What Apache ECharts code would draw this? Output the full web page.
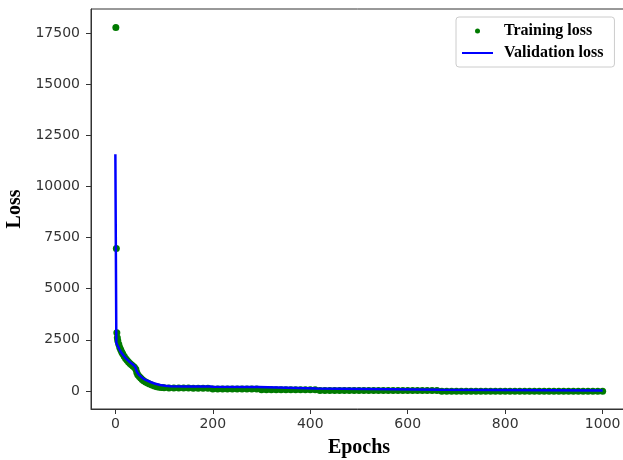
<!DOCTYPE html>
<html>
<head>
<meta charset="utf-8">
<title>Loss</title>
<script src="https://cdn.jsdelivr.net/npm/echarts@6/dist/echarts.min.js"></script>
<style>
	html, body { margin: 0; padding: 0; background: #fff; }
	#main { width: 623px; height: 460px; }
</style>
</head>
<body>
<div id="main"></div>
<script>
// values
var trainEpochs = [1, 2, 3, 4, 5, 7, 9, 11, 13, 15, 18, 21, 24, 27, 30, 33, 36, 39, 42, 44, 46, 49, 52, 55, 58, 62, 66, 70, 75, 80, 85, 90, 95, 100,
	110, 120, 130, 140, 150, 160, 170, 180, 190,
	200, 210, 220, 230, 240, 250, 260, 270, 280, 290,
	300, 310, 320, 330, 340, 350, 360, 370, 380, 390, 400, 410,
	420, 430, 440, 450, 460, 470, 480, 490, 500, 510, 520, 530, 540, 550, 560, 570, 580, 590, 600, 610, 620, 630, 640, 650, 660,
	670, 680, 690, 700, 710, 720, 730, 740, 750, 760, 770, 780, 790, 800, 810, 820, 830, 840, 850, 860, 870, 880, 890, 900,
	910, 920, 930, 940, 950, 960, 970, 980, 990, 1000];
var trainLoss = [17760, 6960, 2850, 2600, 2450, 2280, 2130, 2010, 1910, 1820, 1700, 1590, 1500, 1420, 1340, 1280, 1220, 1160, 1060, 900, 800, 710, 630, 560, 500, 440, 390, 340, 290, 250, 210, 185, 170, 160,
	150, 150, 145, 145, 145, 140, 140, 140, 140,
	100, 100, 100, 100, 95, 95, 95, 95, 95, 95,
	60, 60, 60, 60, 60, 55, 55, 55, 55, 55, 55, 55,
	20, 20, 20, 20, 20, 20, 20, 20, 20, 20, 20, 20, 20, 20, 20, 20, 20, 20, 20, 20, 20, 20, 20, 20, 20,
	-10, -10, -10, -10, -10, -10, -10, -10, -10, -10, -10, -10, -10, -10, -10, -10, -10, -10, -10, -10, -10, -10, -10, -10,
	-10, -10, -10, -10, -10, -10, -10, -10, -10, -10];

var valEpochs = [0, 2, 4, 8, 12, 17, 22, 27, 31, 36, 41, 44, 48, 55, 62, 72, 82, 92, 102, 113, 150, 195, 200, 293, 296, 413, 416, 666, 669, 1000];
var valLoss = [11570, 2350, 2250, 2050, 1880, 1720, 1580, 1470, 1390, 1300, 1180, 950, 800, 650, 540, 440, 350, 295, 260, 235, 225, 215, 205, 200, 135, 125, 70, 60, 25, 20];

var yTicks = [0, 2500, 5000, 7500, 10000, 12500, 15000, 17500];
var xTicks = [0, 200, 400, 600, 800, 1000];

function pairs(xs, ys) {
	var out = [];
	for (var i = 0; i < xs.length; i++) {
		out.push([xs[i], ys[i]]);
	}
	return out;
}

var nameFont = {
	fontFamily : 'Liberation Serif',
	fontWeight : 'bold',
	fontSize : 20,
	color : '#000'
};

// plain numbers, no thousands separator
function plainLabel(v) {
	return String(v);
}

var option = {
	animation : false,
	backgroundColor : '#fff',
	grid : {
		left : 91,
		right : -4,
		top : 9,
		bottom : 51,
		outerBoundsMode : 'none',
		containLabel : false,
		show : true,
		borderColor : '#333',
		borderWidth : 1
	},
	legend : {
		orient : 'vertical',
		left : 456,
		top : 17,
		padding : [ 6, 11, 6, 6 ],
		itemGap : 6,
		itemWidth : 31,
		itemHeight : 5,
		borderColor : '#ccc',
		borderWidth : 1,
		borderRadius : 3,
		backgroundColor : '#fff',
		textStyle : {
			fontFamily : 'Liberation Serif',
			fontWeight : 'bold',
			fontSize : 16,
			lineHeight : 16,
			color : '#000',
			padding : [ 0, 0, 0, 6 ]
		},
		data : [ {
			name : 'Training loss',
			icon : 'circle'
		}, {
			name : 'Validation loss',
			icon : 'path://M0,0L31,0L31,2L0,2Z'
		} ]
	},
	xAxis : {
		type : 'value',
		min : -50,
		max : 1050,
		name : 'Epochs',
		nameLocation : 'middle',
		nameGap : 29,
		nameTextStyle : nameFont,
		splitLine : { show : false },
		axisLine : { show : true, onZero : false, lineStyle : { color : '#333' } },
		axisTick : {
			show : true,
			inside : false,
			length : 5,
			customValues : xTicks,
			lineStyle : { color : '#333', width : 1 }
		},
		axisLabel : {
			customValues : xTicks,
			formatter : plainLabel,
			margin : 8,
			fontFamily : 'DejaVu Sans',
			fontSize : 14,
			color : '#333'
		}
	},
	yAxis : {
		type : 'value',
		min : -880,
		max : 18670,
		name : 'Loss',
		nameLocation : 'middle',
		nameGap : 64,
		nameTextStyle : nameFont,
		splitLine : { show : false },
		axisLine : { show : true, onZero : false, lineStyle : { color : '#333' } },
		axisTick : {
			show : true,
			inside : false,
			length : 5,
			customValues : yTicks,
			lineStyle : { color : '#333', width : 1 }
		},
		axisLabel : {
			customValues : yTicks,
			formatter : plainLabel,
			margin : 11,
			fontFamily : 'DejaVu Sans',
			fontSize : 14,
			color : '#333'
		}
	},
	series : [ {
		name : 'Training loss',
		type : 'scatter',
		symbol : 'circle',
		symbolSize : 7,
		itemStyle : { color : '#007a00', opacity : 1 },
		data : pairs(trainEpochs, trainLoss),
		z : 2
	}, {
		name : 'Validation loss',
		type : 'line',
		symbol : 'none',
		lineStyle : { color : '#0000ff', width : 2.5 },
		itemStyle : { color : '#0000ff' },
		data : pairs(valEpochs, valLoss),
		z : 3
	} ]
};

var chart = echarts.init(document.getElementById('main'));
chart.setOption(option);
</script>
</body>
</html>
